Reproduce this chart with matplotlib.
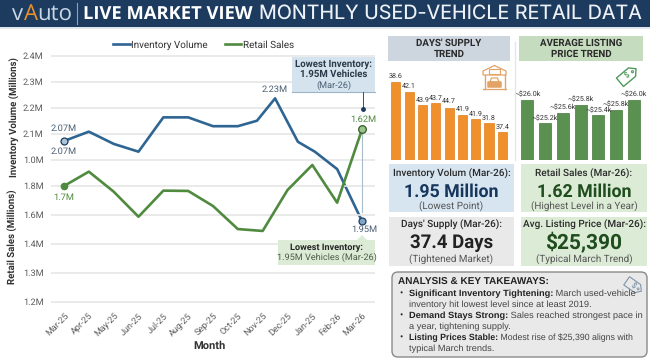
import numpy as np
import matplotlib
matplotlib.use('Agg')
import matplotlib.pyplot as plt
from matplotlib.patches import Rectangle, FancyBboxPatch, Polygon, Circle

plt.rcParams['font.family'] = ['Roboto', 'DejaVu Sans']
plt.rcParams['text.hinting'] = 'no_hinting'

W, H = 650, 362

months = ['Mar-25', 'Apr-25', 'May-25', 'Jun-25', 'Jul-25', 'Aug-25', 'Sep-25',
          'Oct-25', 'Nov-25', 'Dec-25', 'Jan-25', 'Feb-26', 'Mar-26']
inv_x = [0, 1, 2, 3, 4, 5, 6, 7, 7.77, 8.5, 9.42, 10.1, 11, 12]
inv_vals = [2.073, 2.109, 2.062, 2.032, 2.164, 2.164, 2.13, 2.13, 2.151, 2.237,
            2.07, 2.032, 1.965, 1.765]
sales_vals = [1.80, 1.899, 1.761, 1.588, 1.768, 1.766, 1.662, 1.503, 1.49, 1.772,
              1.945, 1.685, 2.19]
inv_ticks = [2.4, 2.3, 2.2, 2.1, 2.0]
inv_ticklabels = ['2.4M', '2.3M', '2.2M', '2.1M', '1.0M']
sales_ticks = [1.8, 1.6, 1.4, 1.2, 1.0]
sales_ticklabels = ['1.8M', '1.6M', '1.4M', '1.3M', '1.2M']

days_heights = [78.4, 68.4, 55, 56.7, 52.4, 45.4, 41, 37, 27.7]
days_labels = ['38.6', '42.1', '43.9', '43.7', '44.7', '41.9', '41.9', '31.8', '37.4']
price_heights = [60.4, 37, 47.4, 55.4, 45, 50.4, 60.4]
price_labels = ['~$26.0k', '~$25.2k', '~$25.6k', '~$25.8k', '~$25.4k', '~$25.8k', '~$26.0k']

BLUE = '#2f6592'
GREEN = '#4f8a3f'
ORANGE = '#f0902c'
NAVY = '#1c3b5f'
GRAY = '#5c5c5c'


def px_axes(x0, y0, x1, y1, **kw):
    return fig.add_axes([x0 / W, 1 - y1 / H, (x1 - x0) / W, (y1 - y0) / H], **kw)


fig = plt.figure(figsize=(6.5, 3.62), dpi=100, facecolor='white')

# main chart, two y scales sharing the same box
ax = px_axes(51, 50, 375, 310, zorder=1)
ax.set_facecolor('none')
ax.set_xlim(-0.524, 12.524)
ax.set_ylim(2.4 - 254 / 260, 2.4 + 6 / 260)
for s in ax.spines.values():
    s.set_visible(False)
ax.set_yticks(inv_ticks)
ax.set_yticklabels(inv_ticklabels, fontsize=6.6, color=GRAY)
ax.set_xticks(range(len(months)))
ax.set_xticklabels(months, rotation=45, ha='right', rotation_mode='anchor',
                   fontsize=6.5, color=GRAY)
ax.tick_params(axis='y', length=0, pad=5.5)
ax.tick_params(axis='x', length=0, pad=1)
ax.grid(axis='y', color='#e6e6e6', lw=1.2)
ax.set_axisbelow(True)
line_inv, = ax.plot(inv_x, inv_vals, color=BLUE, lw=1.9, label='Inventory Volume', zorder=3)

ax2 = ax.twinx()
ax2.set_facecolor('none')
ax2.set_ylim(1.8 - 124 / 145, 1.8 + 136 / 145)
for s in ax2.spines.values():
    s.set_visible(False)
ax2.yaxis.tick_left()
ax2.set_yticks(sales_ticks)
ax2.set_yticklabels(sales_ticklabels, fontsize=6.6, color=GRAY)
ax2.tick_params(length=0, pad=5.5)
ax2.grid(axis='y', color='#e6e6e6', lw=1.2)
ax2.set_axisbelow(True)
line_sales, = ax2.plot(range(len(months)), sales_vals, color=GREEN, lw=1.9,
                       label='Retail Sales', zorder=3)

ax2.plot([12, 12], [sales_vals[-1], 1.62], color='#a9bccb', lw=0.8, zorder=2)
ax.plot(0, inv_vals[0], 'o', ms=5, mfc='#a9c4dc', mec=NAVY, mew=0.9, zorder=4)
ax.plot(12, inv_vals[-1], 'o', ms=5, mfc='#7fa6c8', mec=NAVY, mew=0.9, zorder=4)
ax2.plot(0, sales_vals[0], 'o', ms=4.5, color=GREEN, zorder=4)
ax2.plot(12, sales_vals[-1], 'o', ms=5.5, mfc='#9cc48a', mec='#2f5a26', mew=0.9, zorder=4)

fig.legend(handles=[line_inv, line_sales], loc='center', bbox_to_anchor=(203.5 / W, 1 - 45 / H),
           ncol=2, frameon=False, fontsize=7.1, handlelength=1.7, handletextpad=0.15,
           columnspacing=1.7, labelcolor='#333333')

# bar panels
ax3 = px_axes(389, 60, 510, 160, zorder=1)
ax3.bar(range(len(days_heights)), days_heights, width=0.68, color=ORANGE, edgecolor='#e07f1e', lw=0.5)
for i, v in enumerate(days_heights):
    ax3.text(i, v + 2, days_labels[i], ha='center', va='bottom', fontsize=5.1, color='#333333')
ax3.set_xlim(-0.52, 8.58)
ax3.set_ylim(0, 100)
ax3.axis('off')

ax4 = px_axes(519, 60, 643, 160, zorder=1)
ax4.bar(range(len(price_heights)), price_heights, width=0.68, color='#5b9150', edgecolor='#437a39', lw=0.5)
for i, v in enumerate(price_heights):
    ax4.text(i, v + 1.5, price_labels[i], ha='center', va='bottom', fontsize=5.1, color='#333333')
ax4.set_xlim(-0.47, 6.52)
ax4.set_ylim(0, 100)
ax4.axis('off')

# overlay in pixel coordinates for the panels and text
ov = fig.add_axes([0, 0, 1, 1], zorder=5)
ov.set_xlim(0, W)
ov.set_ylim(H, 0)
ov.axis('off')


def box(x0, y0, x1, y1, color, **kw):
    ov.add_patch(Rectangle((x0, y0), x1 - x0, y1 - y0, facecolor=color, edgecolor='none', **kw))


# header
box(0, 0, W, 27, NAVY)
box(0, 27, W, 29, '#dfe6ee')
ov.text(12, 14, 'v', color='#c9d8e6', fontsize=16, ha='left', va='center', family='Open Sans')
ov.text(23.5, 14, 'A', color='#e8912f', fontsize=16, ha='left', va='center', family='Open Sans')
ov.text(37.5, 14, 'uto', color='#c9d8e6', fontsize=16, ha='left', va='center', family='Open Sans')
ov.plot([76.5, 76.5], [3, 24], color='#8fa3b8', lw=0.8)
ov.text(83, 14, 'LIVE MARKET VIEW', color='white', fontsize=13.2, fontweight='bold',
        ha='left', va='center', family='Open Sans')
ov.text(259, 14, 'MONTHLY USED-VEHICLE RETAIL DATA', color='#eef2f6', fontsize=14.2,
        ha='left', va='center', family='Inter')

# chart labels
ov.text(15, 117, 'Inventory Volume (Millions)', rotation=90, fontsize=6.9, fontweight='bold',
        color='#333333', ha='center', va='center')
ov.text(13, 237, 'Retail Sales (Millions)', rotation=90, fontsize=6.9, fontweight='bold',
        color='#333333', ha='center', va='center')
ov.text(209, 346, 'Month', fontsize=8, fontweight='bold', color='#333333', ha='center', va='center')
ov.text(64, 128.5, '2.07M', fontsize=6.7, color='#4a5f73', ha='center', va='center')
ov.text(64, 151, '2.07M', fontsize=6.7, color='#4a5f73', ha='center', va='center')
ov.text(275, 89, '2.23M', fontsize=6.7, color='#4a5f73', ha='center', va='center')
ov.text(64, 197, '1.7M', fontsize=6.7, color=GREEN, ha='center', va='center')
ov.text(363, 119, '1.62M', fontsize=6.7, color=GREEN, ha='center', va='center')
ov.text(364, 229, '1.95M', fontsize=6.7, color='#4a5f73', ha='center', va='center')

# callouts
box(292, 57, 375, 92, '#d5e3ee')
ov.plot([292, 375], [92, 92], color='#9db4c7', lw=0.8)
ov.plot([362.5, 362.5], [92, 108], color='#33506e', lw=0.7)
ov.plot(362.5, 109, 'o', ms=2.5, color=NAVY)
ov.text(333.5, 64.5, 'Lowest Inventory:', fontsize=6.9, fontweight='bold', color='#2b3a48', ha='center', va='center')
ov.text(333.5, 74.5, '1.95M Vehicles', fontsize=6.9, fontweight='bold', color='#2b3a48', ha='center', va='center')
ov.text(333.5, 85, '(Mar-26)', fontsize=6.6, color='#4a5f73', ha='center', va='center')
box(278, 240, 375, 264.5, '#dcebd5')
ov.add_patch(Polygon([[357, 240], [367, 240], [362, 235]], facecolor='#dcebd5', edgecolor='none'))
ov.text(326.5, 247.5, 'Lowest Inventory:', fontsize=6.6, fontweight='bold', color='#262626', ha='center', va='center')
ov.text(326.5, 257.5, '1.95M Vehicles (Mar-26)', fontsize=6.6, color='#4c5c48', ha='center', va='center')

# bar panel headers
box(388, 36, 510, 60.5, '#cdd5df')
box(519, 36, 643, 60.5, '#c6dcbe')
ov.plot([515, 515], [42, 160], color='#e4e6e8', lw=1)
for cx, a, b in [(449, "DAYS' SUPPLY", 'TREND'), (581, 'AVERAGE LISTING', 'PRICE TREND')]:
    ov.text(cx, 43, a, fontsize=7, fontweight='bold', color='#2a2a2a', ha='center', va='center')
    ov.text(cx, 54, b, fontsize=7, fontweight='bold', color='#2a2a2a', ha='center', va='center')

# garage icon
ICON = '#e3a366'
ov.add_patch(Polygon([[483, 71], [494.5, 65.5], [506, 71], [506, 75], [483, 75]], fill=False, ec=ICON, lw=0.9))
ov.add_patch(Rectangle((489, 68.5), 11, 5, fill=False, ec=ICON, lw=0.8))
ov.plot([484.5, 484.5], [75, 89], color=ICON, lw=1)
ov.plot([504.5, 504.5], [75, 89], color=ICON, lw=1)
ov.add_patch(FancyBboxPatch((488, 82), 13, 5, boxstyle='round,pad=0.3', fc=ICON, ec=ICON, lw=0.5))
ov.add_patch(Polygon([[490, 82], [491.5, 78], [497.5, 78], [499, 82]], fill=False, ec=ICON, lw=0.9))
ov.plot([483, 506], [89, 89], color=ICON, lw=0.9)


def tag(cx, cy, w, h, angle, color, lw):
    a = np.radians(angle)
    rot = np.array([[np.cos(a), -np.sin(a)], [np.sin(a), np.cos(a)]])
    pts = np.array([[-w / 2, -h / 2], [w * 0.25, -h / 2], [w / 2, 0], [w * 0.25, h / 2], [-w / 2, h / 2]])
    pts = pts @ rot.T + [cx, cy]
    ov.add_patch(Polygon(pts, fill=False, ec=color, lw=lw, joinstyle='round'))
    hole = np.array([w * 0.28, 0]) @ rot.T + [cx, cy]
    ov.add_patch(Circle(hole, 1, fill=False, ec=color, lw=lw * 0.8))
    ov.text(cx - 1, cy, '$', color=color, fontsize=5.5, fontweight='bold', rotation=-angle,
            ha='center', va='center')


tag(628, 75.5, 21, 11, -40, '#4f9a5a', 1.0)

# stat cards
cards = [
    (389, 164, 514, 212, '#d7e5f1', 'Inventory Volum (Mar-26):', '1.95 Million', '#16365c', '(Lowest Point)', 10, 28, 12.8),
    (521, 164, 647, 212, '#dcebd6', 'Retail Sales (Mar-26):', '1.62 Million', '#1f4d1d', '(Highest Level in a Year)', 10, 28, 12.8),
    (389, 217, 514, 265.5, '#e9e9e9', "Days' Supply (Mar-26):", '37.4 Days', '#222222', '(Tightened Market)', 8, 26, 13.4),
    (521, 217, 647, 265.5, '#dcebd6', 'Avg. Listing Price (Mar-26):', '$25,390', '#1f4d1d', '(Typical March Trend)', 8, 26, 15),
]
for x0, y0, x1, y1, bg, top, mid, col, sub, dy_top, dy_mid, mid_size in cards:
    box(x0, y0, x1, y1, bg)
    cx = (x0 + x1) / 2
    ov.text(cx, y0 + dy_top, top, fontsize=7.2, fontweight='medium', color='#2a2a2a', ha='center', va='center')
    ov.text(cx, y0 + dy_mid, mid, fontsize=mid_size, fontweight='bold', color=col, ha='center', va='center')
    ov.text(cx, y0 + 42, sub, fontsize=7.1, color='#555555', ha='center', va='center')

# takeaways
ov.add_patch(FancyBboxPatch((395, 275), 249, 79, boxstyle='round,pad=3,rounding_size=6',
                            fc='#e9e9e9', ec='#8a8a8a', lw=1))
ov.text(398, 282, 'ANALYSIS & KEY TAKEAWAYS:', fontsize=7.2, fontweight='bold', color='#222222',
        ha='left', va='center', family='Liberation Sans')
take_rows = [
    (294, 'Significant Inventory Tightening:', ' March used-vehicle', 6.7),
    (316, 'Demand Stays Strong:', ' Sales reached strongest pace in', 6.7),
    (338, 'Listing Prices Stable:', ' Modest rise of $25,390 aligns with', 6.3),
]
take_second = [(304.5, 'inventory hit lowest level since at least 2019.'),
               (326.5, 'a year, tightening supply.'),
               (349, 'typical March trends.')]
rend = fig.canvas.get_renderer()
for y, b, rest, size in take_rows:
    ov.text(401, y, '•', fontsize=7, color='#222222', ha='center', va='center')
    t = ov.text(409, y, b, fontsize=size, fontweight='bold', color='#222222', ha='left', va='center',
                family='Liberation Sans')
    ext = t.get_window_extent(rend)
    ov.text(409 + ext.width, y, rest, fontsize=size, color='#444444', ha='left', va='center',
            family='Liberation Sans')
for y, s in take_second:
    ov.text(409, y, s, fontsize=6.7, color='#444444', ha='left', va='center', family='Liberation Sans')
tag(634, 286, 18, 10, 35, '#7f95a8', 0.8)

fig.savefig('out.png', dpi=100)
